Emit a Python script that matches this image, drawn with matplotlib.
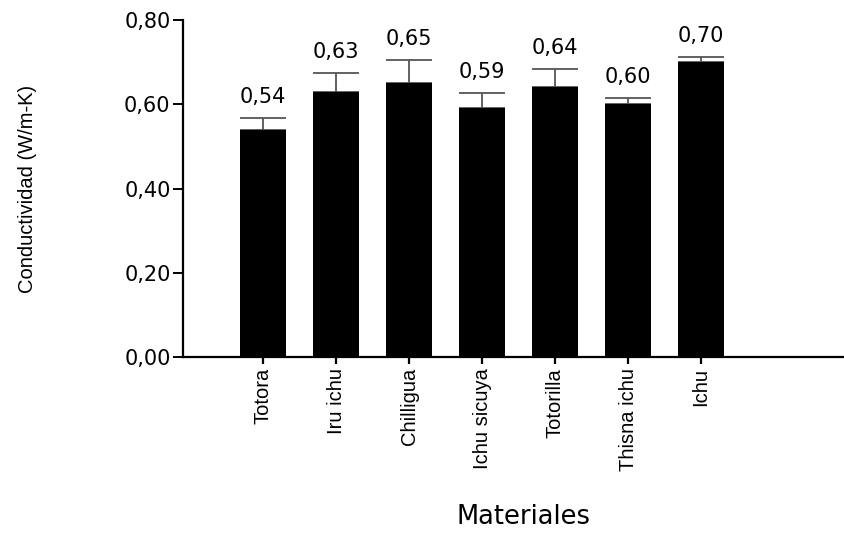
import numpy as np
import matplotlib.pyplot as plt

# datos de conductividad por material
materiales = ['Totora', 'Iru ichu', 'Chilligua', 'Ichu sicuya', 'Totorilla', 'Thisna ichu', 'Ichu']
conductividad = [0.54, 0.63, 0.65, 0.59, 0.64, 0.60, 0.70]
desvio = [0.027, 0.045, 0.055, 0.036, 0.043, 0.014, 0.011]

fuente_ancha = ['DejaVu Sans']
fuente_estrecha = ['Liberation Sans Narrow', 'Liberation Sans', 'DejaVu Sans']

fig = plt.figure(figsize=(8.45, 5.42), dpi=100)
ax = fig.add_axes([0.2166, 0.3413, 0.7810, 0.6218])

x = np.arange(len(materiales))
ax.bar(x, conductividad, width=0.64, color='black', zorder=2)
ax.errorbar(x, conductividad, yerr=[np.zeros(len(desvio)), desvio], fmt='none',
            ecolor='#555555', elinewidth=1.3, capsize=16.9, capthick=1.3, zorder=1)

for xi, v, e in zip(x, conductividad, desvio):
    ax.annotate(f'{v:.2f}'.replace('.', ','), (xi, v + e), xytext=(0, 8),
                textcoords='offset points', ha='center', va='bottom',
                fontsize=15, family=fuente_ancha)

ax.set_xlim(-1.096, 7.945)
ax.set_ylim(0, 0.80)
ax.set_yticks(np.arange(0, 0.81, 0.2))
ax.set_yticklabels([f'{t:.2f}'.replace('.', ',') for t in np.arange(0, 0.81, 0.2)],
                   family=fuente_ancha, fontsize=15)
ax.set_xticks(x)
ax.set_xticklabels(materiales, rotation=90, family=fuente_estrecha, fontsize=14.5)

for s in ['top', 'right']:
    ax.spines[s].set_visible(False)
for s in ['left', 'bottom']:
    ax.spines[s].set_linewidth(1.6)
ax.tick_params(axis='y', length=7, width=1.4, pad=2)
ax.tick_params(axis='x', length=5, width=1.6, pad=3)

fig.text(0.032, 0.651, 'Conductividad (W/m-K)', rotation=90, ha='center', va='center',
         family=fuente_estrecha, fontsize=14.5)
fig.text(0.619, 0.022, 'Materiales', ha='center', va='bottom',
         family=fuente_ancha, fontsize=18.5)

fig.savefig('out.png', dpi=100)
